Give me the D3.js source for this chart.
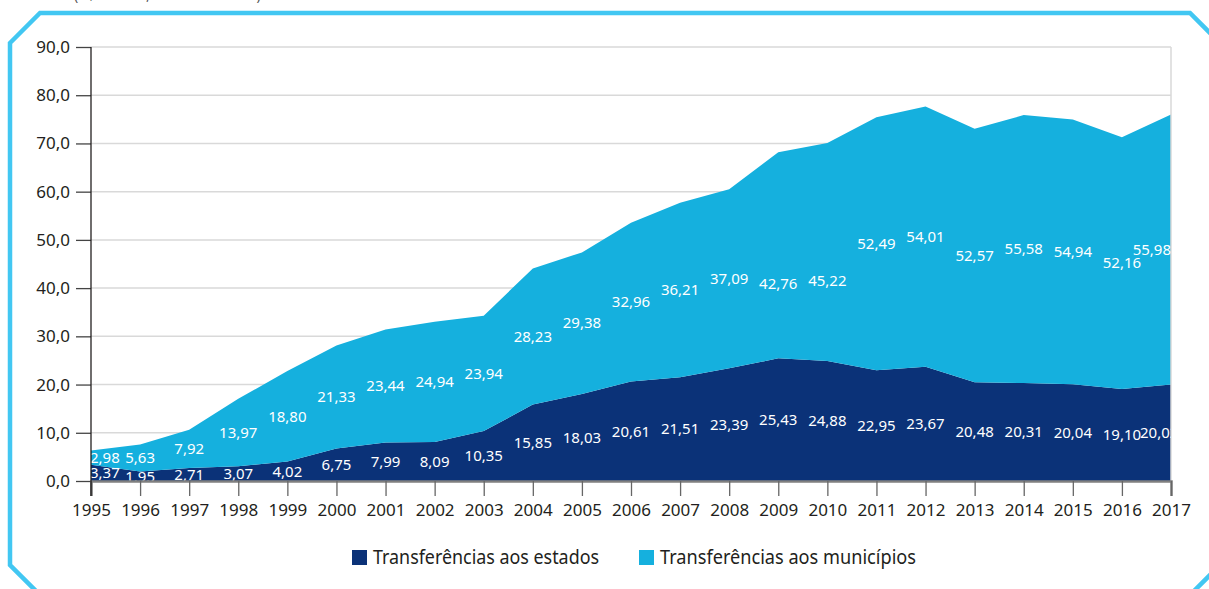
<!DOCTYPE html>
<html>
<head>
<meta charset="utf-8">
<script src="https://cdn.jsdelivr.net/npm/d3@7"></script>
<style>
  html, body { margin: 0; padding: 0; background: #fff; }
  svg { display: block; font-family: "Noto Sans", sans-serif; }
</style>
</head>
<body>
<svg id="chart" width="1209" height="589"></svg>
<script>
// data
const years = [1995, 1996, 1997, 1998, 1999, 2000, 2001, 2002, 2003, 2004, 2005, 2006,
               2007, 2008, 2009, 2010, 2011, 2012, 2013, 2014, 2015, 2016, 2017];
const estados = [3.37, 1.95, 2.71, 3.07, 4.02, 6.75, 7.99, 8.09, 10.35, 15.85, 18.03, 20.61,
                 21.51, 23.39, 25.43, 24.88, 22.95, 23.67, 20.48, 20.31, 20.04, 19.10, 20.02];
const municipios = [2.98, 5.63, 7.92, 13.97, 18.80, 21.33, 23.44, 24.94, 23.94, 28.23, 29.38, 32.96,
                    36.21, 37.09, 42.76, 45.22, 52.49, 54.01, 52.57, 55.58, 54.94, 52.16, 55.98];
const yTicks = [0, 10, 20, 30, 40, 50, 60, 70, 80, 90];
const seriesNames = ["Transferências aos estados", "Transferências aos municípios"];
const unitNote = "(R$ bilhões, valores de 2017)";

const colors = { estados: "#0b3278", municipios: "#15b0de" };

const svg = d3.select("#chart");
const margin = { left: 91, right: 38, top: 47, bottom: 108 };
const width = 1209 - margin.left - margin.right;
const height = 589 - margin.top - margin.bottom;

const locale = d3.formatLocale({ decimal: ",", thousands: ".", grouping: [3], currency: ["R$", ""] });
const fmt1 = locale.format(".1f");
const fmt2 = locale.format(".2f");

// octagon frame
const fr = { x0: 10, y0: 13, x1: 1220, y1: 595, c: 30 };
svg.append("path")
    .attr("d", `M${fr.x0},${fr.y0 + fr.c} L${fr.x0 + fr.c},${fr.y0} L${fr.x1 - fr.c},${fr.y0} L${fr.x1},${fr.y0 + fr.c}
                L${fr.x1},${fr.y1 - fr.c} L${fr.x1 - fr.c},${fr.y1} L${fr.x0 + fr.c},${fr.y1} L${fr.x0},${fr.y1 - fr.c} Z`)
    .attr("fill", "none")
    .attr("stroke", "#42c7f2")
    .attr("stroke-width", 4.5);

// unit note, mostly above the top edge as in the original crop
svg.append("text")
    .attr("x", 74).attr("y", 0)
    .attr("font-size", 14)
    .attr("fill", "#555")
    .text(unitNote);

const chart = svg.append("g").attr("transform", `translate(${margin.left},${margin.top})`);

const x = d3.scaleLinear().domain(d3.extent(years)).range([0, width]);
const y = d3.scaleLinear().domain([0, 90]).range([height, 0]);

// gridlines
chart.append("g")
    .selectAll("line")
    .data(yTicks.slice(1))
    .join("line")
    .attr("x1", 0).attr("x2", width)
    .attr("y1", d => y(d)).attr("y2", d => y(d))
    .attr("stroke", "#d9d9d9")
    .attr("stroke-width", 1.5);

// stacked areas
const table = years.map((yr, i) => ({ year: yr, estados: estados[i], municipios: municipios[i] }));
const stack = d3.stack().keys(["estados", "municipios"])(table);
const area = d3.area()
    .x(d => x(d.data.year))
    .y0(d => y(d[0]))
    .y1(d => y(d[1]));

chart.selectAll(".layer")
    .data(stack)
    .join("path")
    .attr("class", "layer")
    .attr("fill", d => colors[d.key])
    .attr("d", area);

// right border
chart.append("line")
    .attr("x1", width).attr("x2", width)
    .attr("y1", 0).attr("y2", height)
    .attr("stroke", "#d9d9d9").attr("stroke-width", 1.5);

// value labels, clipped to plot area
svg.append("clipPath").attr("id", "plotClip")
    .append("rect").attr("x", -2).attr("y", 0).attr("width", width + 2).attr("height", height);

// label nudges (in data units) where the original moved a label off the band centre
const labelNudge = { municipios: { 2009: -6, 2010: -6 } };

const labels = chart.append("g").attr("clip-path", "url(#plotClip)");
stack.forEach(layer => {
    layer.forEach((d, i) => {
        const nudge = (labelNudge[layer.key] || {})[d.data.year] || 0;
        let lx = x(d.data.year);
        let anchor = "middle";
        if (i === 0) { anchor = "start"; lx = lx - 1; }
        else if (i === years.length - 1) {
            if (layer.key === "municipios") { anchor = "end"; }
            else { anchor = "start"; lx = lx - 31; }
        }
        labels.append("text")
            .attr("x", lx)
            .attr("y", y((d[0] + d[1]) / 2 + nudge))
            .attr("dy", "0.35em")
            .attr("text-anchor", anchor)
            .attr("font-size", 15)
            .attr("fill", "#fff")
            .text(fmt2(d.data[layer.key]));
    });
});

// axes
const yAxis = chart.append("g")
    .call(d3.axisLeft(y).tickValues(yTicks).tickSize(15).tickPadding(6).tickFormat(fmt1));
yAxis.select(".domain").remove();
yAxis.selectAll(".tick line").attr("stroke", "#444").attr("stroke-width", 1.3);
yAxis.selectAll(".tick text").attr("font-size", 17).attr("fill", "#231f20")
    .attr("font-family", "Noto Sans, sans-serif");

const xAxis = chart.append("g")
    .attr("transform", `translate(0,${height})`)
    .call(d3.axisBottom(x).tickValues(years).tickSize(15).tickPadding(8).tickFormat(d3.format("d")));
xAxis.select(".domain").attr("stroke", "#808080").attr("stroke-width", 2.5);
xAxis.selectAll(".tick line").attr("stroke", "#666").attr("stroke-width", 1.3);
xAxis.selectAll(".tick text").attr("font-size", 17).attr("fill", "#231f20")
    .attr("font-family", "Noto Sans, sans-serif");

// left axis line spanning down to tick ends
chart.append("line")
    .attr("x1", 0).attr("x2", 0)
    .attr("y1", 0).attr("y2", height + 15)
    .attr("stroke", "#231f20").attr("stroke-width", 1.3);

// legend
const legendItems = [
    { name: seriesNames[0], color: colors.estados, x: 352, w: 226 },
    { name: seriesNames[1], color: colors.municipios, x: 639, w: 256 }
];
const legend = svg.append("g").selectAll("g")
    .data(legendItems)
    .join("g")
    .attr("transform", d => `translate(${d.x},550)`);
legend.append("rect")
    .attr("width", 15).attr("height", 15)
    .attr("fill", d => d.color);
legend.append("text")
    .attr("x", 21).attr("y", 13.5)
    .attr("font-size", 19)
    .attr("textLength", d => d.w)
    .attr("lengthAdjust", "spacingAndGlyphs")
    .attr("fill", "#231f20")
    .text(d => d.name);
</script>
</body>
</html>
